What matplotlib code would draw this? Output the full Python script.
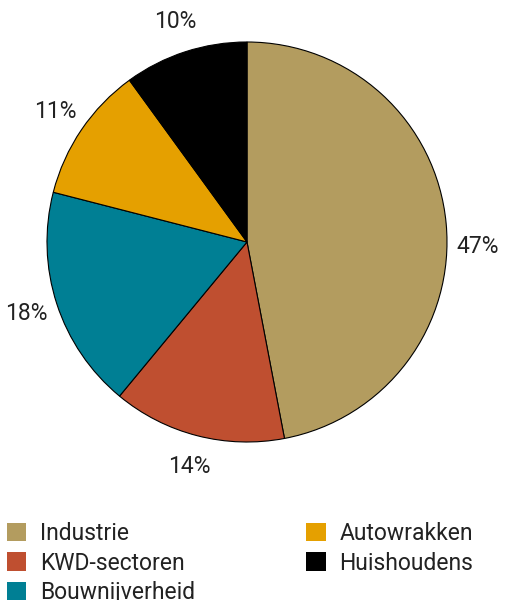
import matplotlib
matplotlib.use("Agg")
import matplotlib.pyplot as plt
from matplotlib.patches import Patch

categories = ["Industrie", "KWD-sectoren", "Bouwnijverheid", "Autowrakken", "Huishoudens"]
shares = [47, 14, 18, 11, 10]
colors = ["#b39c5f", "#bf4f30", "#007f94", "#e5a000", "#000000"]

plt.rcParams["font.family"] = ["Roboto", "DejaVu Sans"]
text_color = "#222222"

fig = plt.figure(figsize=(5.07, 6.0), dpi=100)
ax = fig.add_axes([47 / 507, 158 / 600, 400 / 507, 400 / 600])

wedges, texts = ax.pie(
    shares,
    colors=colors,
    startangle=90,
    counterclock=False,
    labels=[f"{v}%" for v in shares],
    labeldistance=1.16,
    radius=1,
    wedgeprops={"edgecolor": "black", "linewidth": 0.8},
    textprops={"fontsize": 16.5, "color": text_color},
)
for t in texts:
    t.set_ha("center")
    t.set_va("center")
    t.set_clip_on(False)
# biggest slice label sits a bit lower in the original
texts[0].set_y(texts[0].get_position()[1] - 0.13)

ax.set_xlim(-1, 1)
ax.set_ylim(-1, 1)
ax.set_aspect("equal")

handles = [Patch(facecolor=c, edgecolor="none") for c in colors]
fig.legend(
    handles,
    categories,
    loc="upper left",
    bbox_to_anchor=(0.0, 0.142),
    ncol=2,
    frameon=False,
    fontsize=16.5,
    handlelength=0.85,
    handleheight=0.85,
    handletextpad=0.6,
    columnspacing=4.85,
    labelspacing=0.3,
    borderaxespad=0.0,
    borderpad=0.3,
    labelcolor=text_color,
)

fig.savefig("out.png", dpi=100)
